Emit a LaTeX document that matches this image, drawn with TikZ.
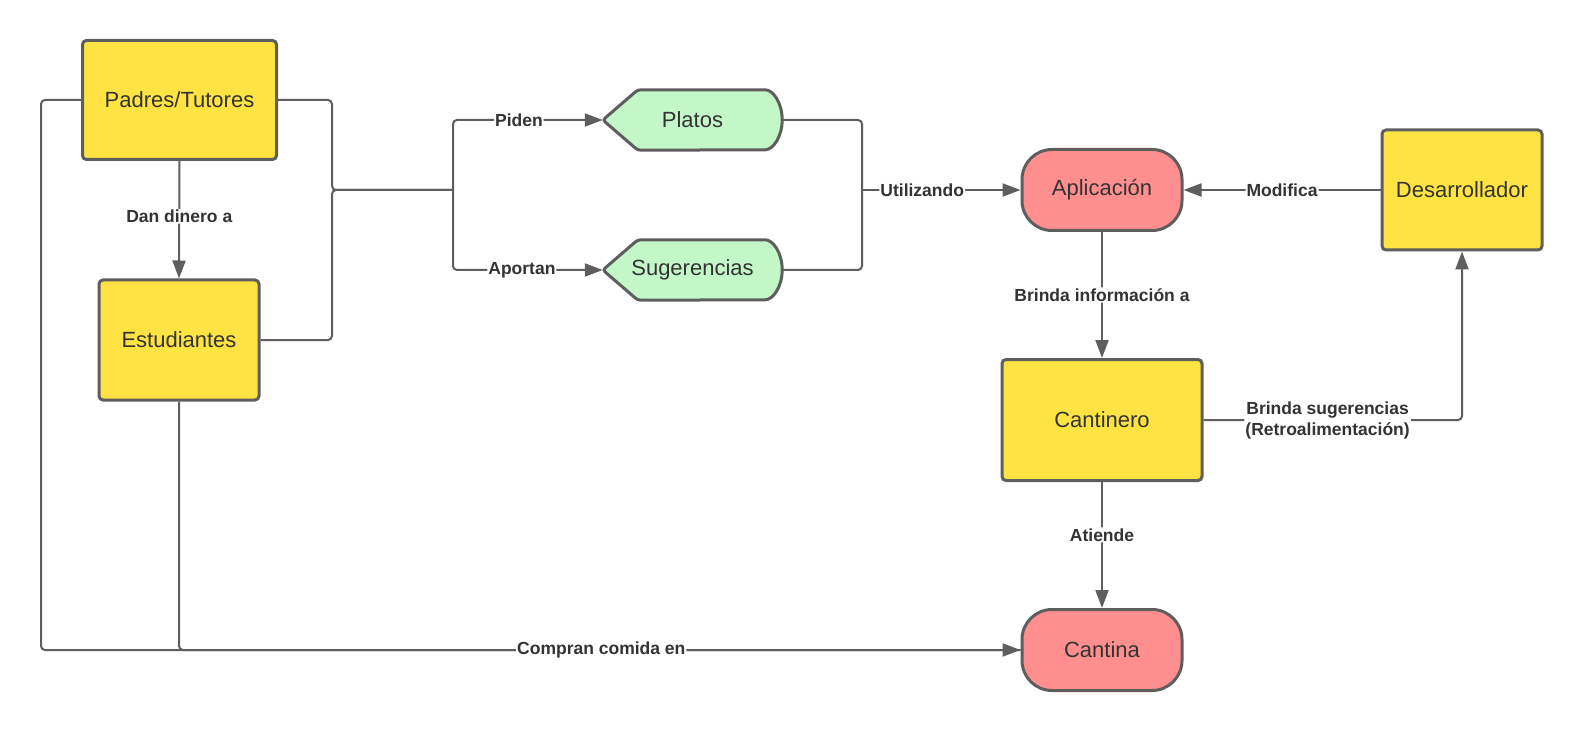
\documentclass[tikz,border=0pt]{standalone}
\usepackage{fontspec}
\setmainfont{Liberation Sans}
\usetikzlibrary{arrows.meta,backgrounds}
\definecolor{linegray}{HTML}{5E5E5E}
\definecolor{textgray}{HTML}{333333}
\definecolor{boxyellow}{HTML}{FFE342}
\definecolor{boxred}{HTML}{FF8F8F}
\definecolor{boxgreen}{HTML}{C3F7C8}

\begin{document}
\begin{tikzpicture}[x=1pt, y=-1pt,
    every node/.style={text=textgray, font=\fontsize{22}{26}\selectfont},
    box/.style={draw=linegray, line width=3pt, rounded corners=4pt, fill=boxyellow},
    terminal/.style={draw=linegray, line width=3pt, rounded corners=30pt, fill=boxred,
      minimum width=160pt, minimum height=81pt},
    display/.style={minimum width=179pt, minimum height=60pt},
    line/.style={draw=linegray, line width=2pt, rounded corners=4pt},
    arrow/.style={line, -{Triangle[length=18pt,width=13pt]}},
    lbl/.style={fill=white, inner sep=1pt, align=center, font=\bfseries\fontsize{17.5}{21}\selectfont}]

  \useasboundingbox (0,0) rectangle (1583,730);

  \node[box, minimum width=194pt, minimum height=119pt] (padres) at (179.5,100) {Padres/Tutores};
  \node[box, minimum width=160pt, minimum height=120pt] (estudiantes) at (179,340) {Estudiantes};
  \node[display] (platos) at (692.5,120) {Platos};
  \node[display] (sugerencias) at (692.5,270) {Sugerencias};
  \node[terminal] (aplicacion) at (1102,190) {Aplicación};
  \node[box, minimum width=160pt, minimum height=120pt] (desarrollador) at (1462,190) {Desarrollador};
  \node[box, minimum width=200pt, minimum height=121pt] (cantinero) at (1102,420) {Cantinero};
  \node[terminal] (cantina) at (1102,650) {Cantina};

  \begin{scope}[on background layer]
    \foreach \n in {platos,sugerencias}
      \draw[line, line width=3pt, fill=boxgreen, rounded corners=3pt]
        (\n.west) -- ([xshift=35pt]\n.north west) -- ([xshift=-20pt]\n.north east)
        arc[start angle=90, end angle=-90, x radius=20pt, y radius=30pt]
        -- ([xshift=35pt]\n.south west) -- cycle;
  \end{scope}

  \coordinate (jl) at (332,190);
  \coordinate (jr) at (453,190);
  \coordinate (jp) at (862,190);
  \coordinate (bl) at (41,650);

  \draw[arrow] (padres.south) -- node[lbl, pos=0.47] {Dan dinero a} (estudiantes.north);
  \draw[line] (padres.east) -| (jl) -- (jr);
  \draw[line] (estudiantes.east) -| (jl) -- (jr);
  \draw[arrow] (jr) |- node[lbl, pos=0.72] {Piden} (platos.west);
  \draw[arrow] (jr) |- node[lbl, pos=0.73] {Aportan} (sugerencias.west);
  \draw[line] (platos.east) -| (jp);
  \draw[line] (sugerencias.east) -| (jp);
  \draw[arrow] (jp) -- node[lbl, pos=0.38] {Utilizando} (aplicacion.west);
  \draw[arrow] (desarrollador.west) -- node[lbl] {Modifica} (aplicacion.east);
  \draw[arrow] (aplicacion.south) -- node[lbl] {Brinda información a} (cantinero.north);
  \draw[arrow] (cantinero.east) -| node[lbl, pos=0.24] {Brinda sugerencias\\(Retroalimentación)} (desarrollador.south);
  \draw[arrow] (cantinero.south) -- node[lbl, pos=0.42] {Atiende} (cantina.north);
  \draw[line] (estudiantes.south) |- (cantina.west);
  \draw[arrow] (padres.west) -| (bl) -- node[lbl, pos=0.572] {Compran comida en} (cantina.west);
\end{tikzpicture}
\end{document}
